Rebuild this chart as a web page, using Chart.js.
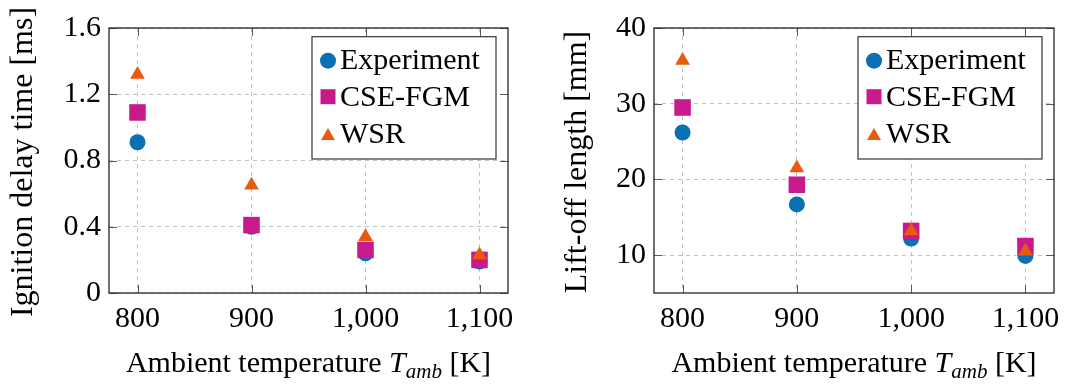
<!DOCTYPE html>
<html>
<head>
<meta charset="utf-8">
<script src="https://cdn.jsdelivr.net/npm/chart.js@4/dist/chart.umd.min.js"></script>
<style>
  html, body { margin: 0; padding: 0; background: #fff; }
  #wrap { position: relative; width: 1089px; height: 385px; overflow: hidden; }
  .panel { position: absolute; top: 0; height: 385px; }
</style>
</head>
<body>
<div id="wrap">
  <div class="panel" style="left:0;width:545px"><canvas id="ignition"></canvas></div>
  <div class="panel" style="left:545px;width:544px"><canvas id="liftoff"></canvas></div>
</div>
<script>
// Ambient temperature sweep shared by both panels
const temperatures = [800, 900, 1000, 1100];
const temperatureTickLabels = ['800', '900', '1,000', '1,100'];
const seriesNames = ['Experiment', 'CSE-FGM', 'WSR'];

// Ignition delay time [ms]
const ignitionExperiment = [0.91, 0.40, 0.24, 0.19];
const ignitionCseFgm = [1.09, 0.41, 0.26, 0.20];
const ignitionWsr = [1.32, 0.65, 0.34, 0.23];
const ignitionTicks = [0, 0.4, 0.8, 1.2, 1.6];
const ignitionTickLabels = ['0', '0.4', '0.8', '1.2', '1.6'];

// Lift-off length [mm]
const liftoffExperiment = [26.2, 16.7, 12.2, 9.9];
const liftoffCseFgm = [29.5, 19.3, 13.2, 11.2];
const liftoffWsr = [35.7, 21.5, 13.2, 10.5];
const liftoffTicks = [10, 20, 30, 40];
const liftoffTickLabels = ['10', '20', '30', '40'];

const SERIF = '"Liberation Serif", "Times New Roman", Times, serif';
const colors = ['#0b6fb4', '#c81a8b', '#e85a0e'];
const markerStyles = ['circle', 'rect', 'triangle'];
const markerRadii = [8, 11.7, 8.5];
const legendRadii = [8, 10.6, 8];
const legendMarkerLift = [8.6, 9.3, 6.6];

function drawXTitle(ctx, cx, baseline) {
  const parts = [
    { text: 'Ambient temperature ', font: '30px ' + SERIF, dy: 0 },
    { text: 'T', font: 'italic 30px ' + SERIF, dy: 0 },
    { text: 'amb', font: 'italic 21px ' + SERIF, dy: 6 },
    { text: ' [K]', font: '30px ' + SERIF, dy: 0 }
  ];
  let total = 0;
  parts.forEach(p => { ctx.font = p.font; p.w = ctx.measureText(p.text).width; total += p.w; });
  let x = cx - total / 2;
  ctx.textAlign = 'left';
  ctx.textBaseline = 'alphabetic';
  parts.forEach(p => { ctx.font = p.font; ctx.fillText(p.text, x, baseline + p.dy); x += p.w; });
}

const panelDecor = {
  id: 'panelDecor',
  afterDraw(chart, args, opts) {
    const ctx = chart.ctx;
    const a = chart.chartArea;
    const xs = chart.scales.x, ys = chart.scales.y;
    ctx.save();

    // inward tick marks on all four sides
    ctx.strokeStyle = '#5a5a5a';
    ctx.lineWidth = 1;
    const tl = 8;
    ctx.beginPath();
    xs.ticks.forEach(t => {
      const px = Math.round(xs.getPixelForValue(t.value)) + 0.5;
      ctx.moveTo(px, a.bottom); ctx.lineTo(px, a.bottom - tl);
      ctx.moveTo(px, a.top); ctx.lineTo(px, a.top + tl);
    });
    ys.ticks.forEach(t => {
      const py = Math.round(ys.getPixelForValue(t.value)) + 0.5;
      ctx.moveTo(a.left, py); ctx.lineTo(a.left + tl, py);
      ctx.moveTo(a.right, py); ctx.lineTo(a.right - tl, py);
    });
    ctx.stroke();

    // axis frame
    ctx.strokeStyle = '#262626';
    ctx.lineWidth = 1.3;
    ctx.strokeRect(a.left, a.top, a.right - a.left, a.bottom - a.top);

    // legend box
    const bw = 184, bh = 122.3;
    const bx = a.right - 12 - bw, by = a.top + 8.7;
    ctx.fillStyle = '#fff';
    ctx.fillRect(bx, by, bw, bh);
    ctx.strokeStyle = '#333';
    ctx.lineWidth = 1.2;
    ctx.strokeRect(bx, by, bw, bh);
    const baselines = [32.6, 69.3, 106];
    chart.data.datasets.forEach((ds, i) => {
      const base = by + baselines[i];
      ctx.fillStyle = ds.backgroundColor;
      Chart.helpers.drawPoint(ctx, { pointStyle: ds.pointStyle, radius: legendRadii[i], rotation: 0, borderWidth: 0 },
        bx + 16, base - legendMarkerLift[i]);
      ctx.fillStyle = '#000';
      ctx.font = '30px ' + SERIF;
      ctx.textAlign = 'left';
      ctx.textBaseline = 'alphabetic';
      ctx.fillText(ds.label, bx + 28, base);
    });

    // axis titles
    ctx.fillStyle = '#000';
    drawXTitle(ctx, (a.left + a.right) / 2, 372);
    ctx.save();
    ctx.translate(opts.yTitleX, (a.top + a.bottom) / 2 + 1.5);
    ctx.rotate(-Math.PI / 2);
    ctx.font = '32px ' + SERIF;
    ctx.textAlign = 'center';
    ctx.textBaseline = 'alphabetic';
    ctx.fillText(opts.yTitle, 0, 0);
    ctx.restore();

    ctx.restore();
  }
};

function makePanel(canvasId, series, yMin, yMax, yTicks, yTickLabels, yTitle, yTitleX, plotRight) {
  const canvas = document.getElementById(canvasId);
  const width = canvas.parentElement.clientWidth;
  const datasets = series.map((vals, i) => ({
    label: seriesNames[i],
    data: temperatures.map((t, j) => ({ x: t, y: vals[j] })),
    pointStyle: markerStyles[i],
    pointRadius: markerRadii[i],
    pointHoverRadius: markerRadii[i],
    backgroundColor: colors[i],
    borderColor: colors[i],
    borderWidth: 0,
    showLine: false,
    order: 3 - i
  }));
  return new Chart(canvas, {
    type: 'scatter',
    data: { datasets },
    plugins: [panelDecor],
    options: {
      responsive: true,
      maintainAspectRatio: false,
      animation: false,
      devicePixelRatio: 1,
      layout: { padding: { left: 0, top: 28, right: width - plotRight, bottom: 0 } },
      plugins: {
        legend: { display: false },
        tooltip: { enabled: false },
        panelDecor: { yTitle, yTitleX }
      },
      scales: {
        x: {
          type: 'linear',
          min: 775,
          max: 1125,
          afterBuildTicks: s => { s.ticks = temperatures.map(v => ({ value: v })); },
          afterFit: s => { s.height = 92; },
          ticks: {
            callback: (v, idx) => temperatureTickLabels[idx],
            font: { family: SERIF, size: 30 },
            color: '#000',
            padding: 8,
            maxRotation: 0,
            autoSkip: false
          },
          grid: { color: '#c4c4c4', lineWidth: 1, drawTicks: false },
          border: { display: false, dash: [4, 4] }
        },
        y: {
          type: 'linear',
          min: yMin,
          max: yMax,
          afterBuildTicks: s => { s.ticks = yTicks.map(v => ({ value: v })); },
          afterFit: s => { s.width = 109; },
          ticks: {
            callback: (v, idx) => yTickLabels[idx],
            font: { family: SERIF, size: 30 },
            color: '#000',
            padding: 8,
            autoSkip: false
          },
          grid: { color: '#c4c4c4', lineWidth: 1, drawTicks: false },
          border: { display: false, dash: [4, 4] }
        }
      }
    }
  });
}

makePanel('ignition', [ignitionExperiment, ignitionCseFgm, ignitionWsr], 0, 1.6,
  ignitionTicks, ignitionTickLabels, 'Ignition delay time [ms]', 32, 508);
makePanel('liftoff', [liftoffExperiment, liftoffCseFgm, liftoffWsr], 5, 40,
  liftoffTicks, liftoffTickLabels, 'Lift-off length [mm]', 40.5, 509);
</script>
</body>
</html>
